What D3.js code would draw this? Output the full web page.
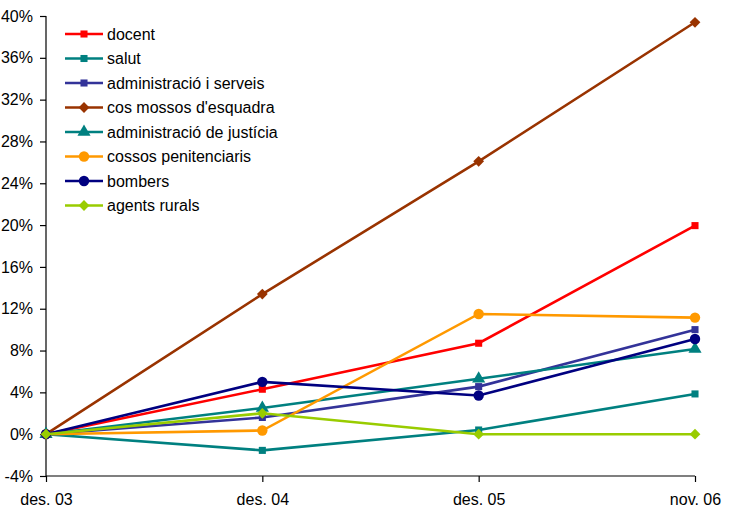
<!DOCTYPE html>
<html>
<head>
<meta charset="utf-8">
<script src="https://cdn.jsdelivr.net/npm/d3@7"></script>
<style>
  body { margin: 0; background: #fff; }
  text { font-family: "Liberation Sans", Arial, sans-serif; fill: #000; }
</style>
</head>
<body>
<svg id="chart" width="730" height="517"></svg>
<script>
// categories and tick labels
const periods = ["des. 03", "des. 04", "des. 05", "nov. 06"];
const yTicks = [-4, 0, 4, 8, 12, 16, 20, 24, 28, 32, 36, 40];

// series values (% growth)
const docent      = [0, 4.3, 8.7, 19.95];
const salut       = [0, -1.55, 0.4, 3.85];
const adminServ   = [0, 1.6, 4.55, 10.0];
const mossos      = [0, 13.4, 26.1, 39.4];
const justicia    = [0, 2.5, 5.3, 8.15];
const penitenc    = [0, 0.35, 11.5, 11.15];
const bombers     = [0, 5.0, 3.7, 9.1];
const agentsRur   = [0, 2.0, 0, 0];

const series = [
  { name: "docent", values: docent, color: "#ff0000", symbol: "square" },
  { name: "salut", values: salut, color: "#008080", symbol: "square" },
  { name: "administració i serveis", values: adminServ, color: "#333399", symbol: "square" },
  { name: "cos mossos d'esquadra", values: mossos, color: "#993300", symbol: "diamond" },
  { name: "administració de justícia", values: justicia, color: "#008080", symbol: "triangle" },
  { name: "cossos penitenciaris", values: penitenc, color: "#ff9900", symbol: "circle" },
  { name: "bombers", values: bombers, color: "#000080", symbol: "circle" },
  { name: "agents rurals", values: agentsRur, color: "#99cc00", symbol: "diamond" }
];

const svg = d3.select("#chart");
const margin = { top: 16, right: 35, bottom: 41, left: 46 };
const width = 730 - margin.left - margin.right;
const height = 517 - margin.top - margin.bottom;

const chart = svg.append("g")
  .attr("transform", `translate(${margin.left},${margin.top})`);

const x = d3.scalePoint().domain(periods).range([0, width]);
const y = d3.scaleLinear().domain([-4, 40]).range([height, 0]);

// y axis
const yAxis = chart.append("g")
  .call(d3.axisLeft(y).tickValues(yTicks).tickSize(6).tickPadding(7).tickFormat(d => d + "%"));
yAxis.selectAll("text").style("font-size", "16px");

// x axis along the bottom (-4%)
const xAxis = chart.append("g")
  .attr("transform", `translate(0,${height})`)
  .call(d3.axisBottom(x).tickSize(6).tickPadding(12));
xAxis.selectAll("text").style("font-size", "16px");

svg.selectAll(".domain, .tick line")
  .attr("stroke", "#000")
  .attr("stroke-width", 1.2);
xAxis.select(".domain").attr("d", `M0,0H${width}`);
yAxis.select(".domain").attr("d", `M0,0V${height}`);

// diamonds are squares turned 45 degrees, like the spreadsheet markers
const symbolOf = {
  square: { path: d3.symbol().type(d3.symbolSquare).size(50)(), rot: 0 },
  diamond: { path: d3.symbol().type(d3.symbolSquare).size(58)(), rot: 45 },
  triangle: { path: d3.symbol().type(d3.symbolTriangle).size(75)(), rot: 0 },
  circle: { path: d3.symbol().type(d3.symbolCircle).size(85)(), rot: 0 }
};

const line = d3.line()
  .x((d, i) => x(periods[i]))
  .y(d => y(d));

series.forEach(s => {
  const sym = symbolOf[s.symbol];
  const g = chart.append("g");
  g.append("path")
    .datum(s.values)
    .attr("d", line)
    .attr("fill", "none")
    .attr("stroke", s.color)
    .attr("stroke-width", 2.6);
  g.selectAll("path.pt")
    .data(s.values)
    .enter().append("path")
    .attr("class", "pt")
    .attr("d", sym.path)
    .attr("transform", (d, i) => `translate(${x(periods[i])},${y(d)}) rotate(${sym.rot})`)
    .attr("fill", s.color);
});

// legend
const legend = svg.append("g").attr("transform", "translate(65,34)");
series.forEach((s, i) => {
  const sym = symbolOf[s.symbol];
  const row = legend.append("g").attr("transform", `translate(0,${i * 24.5})`);
  row.append("line")
    .attr("x1", 0).attr("x2", 38)
    .attr("stroke", s.color).attr("stroke-width", 2.6);
  row.append("path")
    .attr("d", sym.path)
    .attr("transform", `translate(19,0) rotate(${sym.rot})`)
    .attr("fill", s.color);
  row.append("text")
    .attr("x", 42).attr("y", 0)
    .attr("dy", "0.35em")
    .style("font-size", "16px")
    .text(s.name);
});
</script>
</body>
</html>
